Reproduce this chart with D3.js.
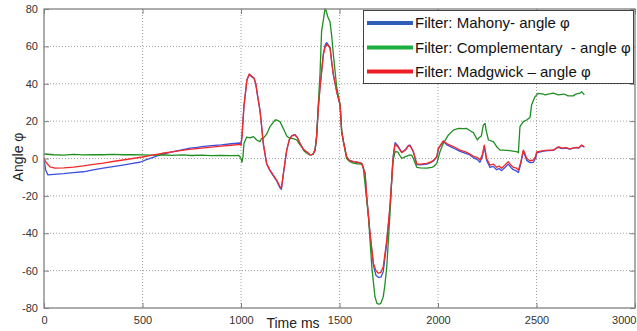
<!DOCTYPE html>
<html>
<head>
<meta charset="utf-8">
<script src="https://cdn.jsdelivr.net/npm/d3@7"></script>
<style>
    body { margin: 0; background: #fff; }
    text { font-family: "Liberation Sans", Arial, sans-serif; }
</style>
</head>
<body>
<div id="chart"></div>
<script>
// series values, [time ms, angle]
var mahonyData = [
    [0, 0], [8, -6], [20, -8.8], [50, -8.5], [100, -8.1], [148, -7.6], [200, -7.1], [250, -6.1], [300, -5.2],
    [350, -4.3], [400, -3.5], [450, -2.6], [487, -2], [520, -0.6], [550, 0.5], [589, 1.9], [620, 2.8], [650, 3.5],
    [700, 4.6], [741, 5.5], [780, 6], [800, 6.3], [850, 6.9], [900, 7.3], [950, 7.9], [995, 8.3], [1000, 7.5],
    [1005, 12], [1015, 28], [1030, 42], [1042, 45], [1055, 43.6], [1066, 43], [1075, 40], [1085, 33], [1096, 26],
    [1105, 17], [1113, 8], [1130, -2.8], [1147, -6.5], [1165, -9.5], [1181, -12], [1198, -15.8], [1205, -16.5],
    [1215, -8.5], [1232, 4.3], [1245, 10], [1257, 12.2], [1274, 12.8], [1287, 11], [1299, 8.1], [1316, 5],
    [1333, 3.5], [1350, 2], [1365, 2.2], [1376, 4.5], [1384, 12], [1393, 28], [1401, 38], [1418, 56], [1428, 61],
    [1435, 62], [1445, 60.5], [1452, 59.5], [1460, 52], [1469, 44.7], [1486, 35.7], [1503, 28.6], [1511, 14.3],
    [1520, 9], [1536, 1], [1550, -1], [1570, -1.7], [1590, -2], [1613, -2.6], [1630, -8], [1638, -20.4],
    [1655, -40.5], [1672, -57], [1685, -62.5], [1697, -63.6], [1710, -63.5], [1722, -60.6], [1740, -45],
    [1756, -26.5], [1773, 1.5], [1782, 8.5], [1795, 7], [1816, 3.3], [1835, 4.8], [1850, 7], [1858, 7.2],
    [1868, 5.2], [1875, 3.5], [1892, -3.2], [1910, -3.4], [1943, -3], [1960, -2.4], [1977, -1.3], [1994, 0.8],
    [2002, 5.2], [2027, 9.2], [2045, 7.3], [2061, 6.5], [2085, 5.2], [2112, 3.8], [2140, 2.8], [2160, 2],
    [2179, 0.5], [2200, -0.6], [2213, -2], [2225, 1], [2235, 6.5], [2247, -1], [2264, -4.8], [2280, -4.2],
    [2298, -6], [2310, -5.3], [2323, -6.5], [2340, -4.8], [2357, -3], [2370, -4.8], [2382, -6], [2395, -6.5],
    [2408, -7.5], [2420, -3], [2433, 3.8], [2440, 2], [2450, -1], [2467, -2.2], [2484, -2], [2495, 0],
    [2501, 3], [2520, 3.6], [2535, 4], [2560, 4.2], [2585, 4.3], [2611, 6], [2630, 5.3], [2650, 5.6],
    [2670, 5], [2685, 5.5], [2700, 5.8], [2715, 5.6], [2729, 7], [2743, 6.1]
];

var complementaryData = [
    [0, 2.4], [50, 2], [100, 1.8], [150, 2.2], [200, 1.9], [250, 2.1], [300, 2], [350, 2.2], [400, 2],
    [450, 2.1], [500, 1.9], [550, 1.8], [600, 2], [650, 1.7], [700, 1.9], [750, 1.6], [800, 1.8], [850, 1.5],
    [900, 1.7], [950, 1.5], [990, 1.6], [1000, 0], [1005, -2], [1010, 1], [1015, 8], [1029, 11.5], [1045, 11],
    [1063, 11.7], [1080, 9.9], [1096, 9], [1105, 10.8], [1113, 10.8], [1130, 13], [1147, 17], [1165, 19.5],
    [1173, 20.6], [1181, 20.6], [1198, 19.7], [1215, 16], [1232, 12], [1245, 11], [1257, 10.8], [1270, 10.5],
    [1283, 9.9], [1295, 8], [1308, 6.3], [1320, 4], [1335, 2.8], [1350, 1.9], [1365, 2.2], [1376, 4.5],
    [1384, 12], [1393, 30], [1401, 45], [1409, 68], [1418, 74], [1426, 80], [1431, 79.5], [1440, 76],
    [1452, 73], [1460, 66], [1469, 55.4], [1486, 38], [1503, 29], [1511, 15], [1520, 9], [1536, 0],
    [1550, -1.5], [1570, -2.5], [1590, -2.8], [1613, -3], [1621, -5], [1638, -22], [1647, -31], [1664, -58],
    [1680, -74], [1690, -77.5], [1700, -78], [1710, -77.5], [1722, -74], [1730, -68], [1740, -57.9],
    [1756, -30], [1770, -2], [1782, 3.6], [1795, 3.5], [1816, 0], [1835, 1], [1858, 1.9], [1868, 1.5],
    [1875, 0], [1892, -4.7], [1910, -5], [1943, -5.2], [1968, -4.7], [1977, -4.4], [1994, -2.6], [2010, 3.6],
    [2027, 8.1], [2053, 12.6], [2078, 15.2], [2104, 16.1], [2130, 16], [2146, 16.1], [2171, 14.3], [2179, 14],
    [2200, 9.9], [2205, 10.8], [2220, 12], [2230, 17.9], [2239, 18.8], [2244, 15.2], [2256, 9.9], [2281, 9],
    [2298, 6.3], [2315, 4.5], [2332, 4.5], [2365, 4.2], [2403, 3.6], [2408, 3.1], [2416, 17], [2433, 19.7],
    [2450, 20.6], [2467, 22], [2475, 28.6], [2492, 33], [2509, 34.9], [2535, 34.5], [2543, 34], [2560, 34.5],
    [2585, 35], [2611, 34], [2640, 34.5], [2660, 33.5], [2687, 33.5], [2700, 34.5], [2721, 35], [2730, 35.7],
    [2743, 34]
];

var madgwickData = [
    [0, 0], [10, -2], [30, -4.5], [56, -5.2], [100, -5], [150, -4.6], [200, -4], [250, -3.2], [300, -2.5],
    [350, -1.6], [400, -0.8], [450, 0], [500, 0.8], [550, 1.8], [600, 2.8], [650, 3.5], [700, 4.3], [750, 5],
    [800, 5.6], [850, 6.1], [900, 6.6], [950, 7.1], [995, 7.6], [1000, 7], [1005, 12], [1015, 28], [1030, 42],
    [1042, 45.2], [1055, 44], [1066, 43], [1075, 40], [1085, 33], [1096, 26], [1105, 17], [1113, 8.1],
    [1130, -2.6], [1147, -6.2], [1165, -9], [1181, -11.5], [1198, -15.1], [1205, -16], [1215, -8], [1232, 4.5],
    [1245, 10], [1257, 12], [1274, 12.6], [1287, 11], [1299, 8.1], [1316, 5], [1333, 3.6], [1350, 2],
    [1365, 2.2], [1376, 4.5], [1384, 12], [1393, 28], [1401, 37.7], [1418, 55.4], [1428, 60], [1435, 61],
    [1445, 60], [1452, 59], [1460, 52], [1469, 44.7], [1486, 35.7], [1503, 28.6], [1511, 14.3], [1520, 9],
    [1536, 1], [1550, -1], [1570, -1.7], [1590, -2], [1613, -2.6], [1630, -8], [1638, -20.4], [1655, -40],
    [1672, -56], [1685, -60], [1697, -61.4], [1710, -61], [1722, -57.9], [1740, -43.6], [1756, -25.8],
    [1773, 1], [1782, 7.5], [1795, 6.5], [1816, 3.1], [1835, 4.5], [1850, 6.7], [1858, 6.7], [1868, 5],
    [1875, 3.6], [1892, -2.9], [1910, -3], [1943, -2.6], [1960, -2], [1977, -1], [1994, 1], [2002, 5.5],
    [2027, 9.4], [2045, 8], [2061, 7.2], [2085, 6], [2112, 4.5], [2140, 3.5], [2160, 2.5], [2179, 1.3],
    [2200, 0.5], [2213, -0.8], [2225, 2], [2235, 7.2], [2247, 0], [2264, -3.5], [2280, -3], [2298, -4.7],
    [2310, -4], [2323, -5.2], [2340, -3.5], [2357, -1.7], [2370, -3.5], [2382, -4.7], [2395, -5], [2408, -6.2],
    [2420, -2], [2433, 4.5], [2440, 3], [2450, 0], [2467, -1.2], [2484, -0.8], [2495, 1], [2501, 3.6],
    [2520, 4], [2535, 4.2], [2560, 4.5], [2585, 4.5], [2611, 6.3], [2630, 5.5], [2650, 5.8], [2670, 5.2],
    [2685, 5.6], [2700, 6], [2715, 5.8], [2729, 7.2], [2743, 6.3]
];

var seriesNames = ["Filter: Mahony- angle \u03c6", "Filter: Complementary  - angle \u03c6", "Filter: Madgwick \u2013 angle \u03c6"];
var xTicks = [0, 500, 1000, 1500, 2000, 2500, 3000];
var yTicks = [-80, -60, -40, -20, 0, 20, 40, 60, 80];

var width = 637, height = 331;
var plotLeft = 44, plotRight = 635, plotTop = 9, plotBottom = 308;

var lineColors = ["#3b4fe0", "#1f8f22", "#f22a2a"];
var legendColors = ["#2f5db8", "#1cae3e", "#ee1c24"];

var svg = d3.select("#chart")
    .append("svg")
    .attr("width", width)
    .attr("height", height);

var x = d3.scaleLinear().domain([0, 3000]).range([plotLeft, plotRight]);
var y = d3.scaleLinear().domain([-80, 80]).range([plotBottom, plotTop]);

// grid
svg.append("g")
    .selectAll("line")
    .data(xTicks.slice(1, -1))
    .join("line")
    .attr("x1", d => x(d)).attr("x2", d => x(d))
    .attr("y1", plotTop).attr("y2", plotBottom)
    .attr("stroke", "#a0a0a0")
    .attr("stroke-dasharray", "1,2");

svg.append("g")
    .selectAll("line")
    .data(yTicks.slice(1, -1))
    .join("line")
    .attr("y1", d => y(d)).attr("y2", d => y(d))
    .attr("x1", plotLeft).attr("x2", plotRight)
    .attr("stroke", "#a0a0a0")
    .attr("stroke-dasharray", "1,2");

// axes
var xAxis = d3.axisBottom(x).tickValues(xTicks).tickSize(-5).tickPadding(8).tickFormat(d => String(d));
var yAxis = d3.axisLeft(y).tickValues(yTicks).tickSize(-5).tickPadding(6).tickFormat(d => String(d));

var gx = svg.append("g").attr("transform", "translate(0," + plotBottom + ")").call(xAxis);
var gy = svg.append("g").attr("transform", "translate(" + plotLeft + ",0)").call(yAxis);

[gx, gy].forEach(function (g) {
    g.select(".domain").remove();
    g.selectAll(".tick line").attr("stroke", "#808080");
    g.selectAll(".tick text")
        .attr("fill", "#333")
        .style("font-size", "11px")
        .style("font-family", "'Liberation Sans', Arial, sans-serif");
});
// last x label sits inside the window, like the original
gx.selectAll(".tick text").filter(d => d === 3000)
    .attr("text-anchor", "end").attr("dx", 1);

// mirrored ticks on top and right
svg.append("g").attr("transform", "translate(0," + plotTop + ")")
    .call(d3.axisTop(x).tickValues(xTicks).tickSize(-5).tickFormat(""))
    .call(g => g.select(".domain").remove())
    .selectAll(".tick line").attr("stroke", "#808080");
svg.append("g").attr("transform", "translate(" + plotRight + ",0)")
    .call(d3.axisRight(y).tickValues(yTicks).tickSize(-5).tickFormat(""))
    .call(g => g.select(".domain").remove())
    .selectAll(".tick line").attr("stroke", "#808080");

var line = d3.line()
    .x(d => x(d[0]))
    .y(d => y(d[1]))
    .curve(d3.curveLinear);

svg.append("defs").append("clipPath").attr("id", "plotclip")
    .append("rect")
    .attr("x", plotLeft).attr("y", plotTop - 1)
    .attr("width", plotRight - plotLeft).attr("height", plotBottom - plotTop + 2);

var plot = svg.append("g").attr("clip-path", "url(#plotclip)");

[mahonyData, complementaryData, madgwickData].forEach(function (data, i) {
    plot.append("path")
        .attr("d", line(data))
        .attr("stroke", lineColors[i])
        .attr("stroke-width", 1.3)
        .attr("stroke-linejoin", "round")
        .attr("fill", "none");
});

// box
svg.append("rect")
    .attr("x", plotLeft).attr("y", plotTop)
    .attr("width", plotRight - plotLeft).attr("height", plotBottom - plotTop)
    .attr("fill", "none")
    .attr("stroke", "#808080")
    .attr("stroke-width", 1.3);

// axis labels
svg.append("text")
    .attr("transform", "translate(23,157) rotate(-90)")
    .attr("text-anchor", "middle")
    .style("font-size", "14px")
    .attr("fill", "#222")
    .text("Angle \u03c6");

svg.append("text")
    .attr("x", 293).attr("y", 328)
    .attr("text-anchor", "middle")
    .style("font-size", "14px")
    .attr("fill", "#222")
    .text("Time ms");

// legend
var legend = svg.append("g");
legend.append("rect")
    .attr("x", 363.5).attr("y", 10.5)
    .attr("width", 270).attr("height", 73)
    .attr("fill", "#fff")
    .attr("stroke", "#444")
    .attr("stroke-width", 1);

var legendY = [23, 47.5, 71.5];
seriesNames.forEach(function (name, i) {
    legend.append("line")
        .attr("x1", 367).attr("x2", 413)
        .attr("y1", legendY[i]).attr("y2", legendY[i])
        .attr("stroke", legendColors[i])
        .attr("stroke-width", 4);
    legend.append("text")
        .attr("x", 415).attr("y", legendY[i] + 5)
        .style("font-size", "15px")
        .style("white-space", "pre")
        .attr("fill", "#111")
        .text(name);
});
</script>
</body>
</html>
